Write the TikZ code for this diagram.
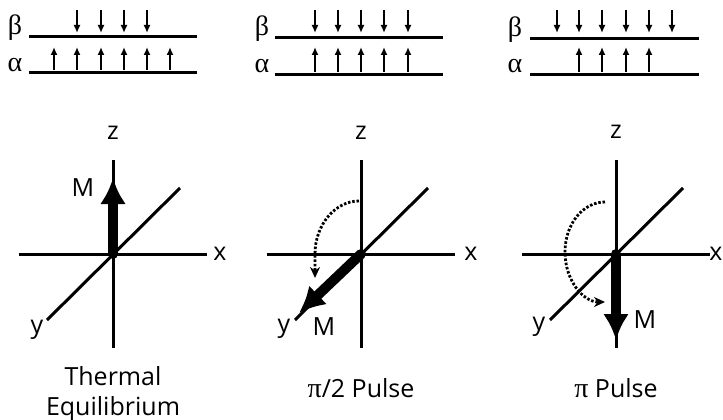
\documentclass[tikz,border=0pt]{standalone}
\usepackage{fontspec}
\setmainfont{Open Sans}
\newfontfamily\greek[Scale=1.12]{Liberation Serif}
\usetikzlibrary{arrows.meta}

\begin{document}
\begin{tikzpicture}[x=1pt,y=-1pt,
  font=\fontsize{25}{30}\selectfont,
  level/.style={line width=3pt},
  spin/.style={line width=2pt,-{Latex[length=8pt,width=7pt]}},
  axis/.style={line width=3pt},
  magnet/.style={line width=10pt,line cap=round,-{Latex[length=26pt,width=26pt]}},
  flip/.style={line width=2.8pt,dash pattern=on 2.5pt off 1.8pt,-{Stealth[length=11pt,width=10pt]}}]

\useasboundingbox (0,0) rectangle (723,420);

% Level populations
\node (beta1) at (15,28) {\greek β};
\node (alpha1) at (15,65) {\greek α};
\draw[level] (29,37) -- (197,37);
\draw[level] (29,73) -- (197,73);
\foreach \x in {77,101,124,147} \draw[spin] (\x,10) -- (\x,33);
\foreach \x in {54,77,101,124,147,170} \draw[spin] (\x,70) -- (\x,47);

\node (beta2) at (262,29) {\greek β};
\node (alpha2) at (262,66) {\greek α};
\draw[level] (275,38) -- (443,38);
\draw[level] (275,75) -- (443,75);
\foreach \x in {315,338,361,384,408} \draw[spin] (\x,10) -- (\x,33);
\foreach \x in {315,338,361,384,408} \draw[spin] (\x,72) -- (\x,47);

\node (beta3) at (515,30) {\greek β};
\node (alpha3) at (515,66) {\greek α};
\draw[level] (530,39) -- (699,39);
\draw[level] (530,75) -- (699,75);
\foreach \x in {557,579,602,626,649,672} \draw[spin] (\x,10) -- (\x,33);
\foreach \x in {579,602,626,649} \draw[spin] (\x,72) -- (\x,47);

% Thermal equilibrium
\coordinate (O1) at (113,254);
\draw[axis] (O1) ++(0,-94) -- ++(0,188);
\draw[axis] (O1) ++(-94,0) -- ++(188,0);
\draw[axis] (O1) ++(-66,66) -- ++(133,-132);
\node (z1) at (113,133) {z};
\node (x1) at (220,254) {x};
\node (y1) at (37,330) {y};
\draw[magnet] (O1) -- (113,178);
\node (M1) at (83,188) {M};
\node[align=center] (label1) at (113,394) {Thermal\\Equilibrium};

% pi/2 pulse
\coordinate (O2) at (361,254);
\draw[axis] (O2) ++(0,-94) -- ++(0,188);
\draw[axis] (O2) ++(-94,0) -- ++(188,0);
\draw[axis] (O2) ++(-66,66) -- ++(133,-132);
\node (z2) at (361,133) {z};
\node (x2) at (471,254) {x};
\node (y2) at (284,329) {y};
\draw[flip] (359,201) .. controls (335,201) and (315,225) .. (315,254) -- (315,278);
\draw[magnet] (O2) -- (299,313);
\node (M2) at (324,327) {M};
\node[anchor=base] (label2) at (361,397) {{\greek π}/2 Pulse};

% pi pulse
\coordinate (O3) at (616,254);
\draw[axis] (O3) ++(0,-94) -- ++(0,188);
\draw[axis] (O3) ++(-94,0) -- ++(188,0);
\draw[axis] (O3) ++(-66,66) -- ++(133,-132);
\node (z3) at (616,132) {z};
\node[inner sep=0pt] (x3) at (716,254) {x};
\node (y3) at (539,327) {y};
\draw[flip] (605,202) .. controls (583,202) and (565,224) .. (565,252)
  .. controls (565,280) and (583,302) .. (605,302);
\draw[magnet] (O3) -- (616,340);
\node (M3) at (645,320) {M};
\node[anchor=base] (label3) at (616,397) {{\greek π} Pulse};

\end{tikzpicture}
\end{document}
